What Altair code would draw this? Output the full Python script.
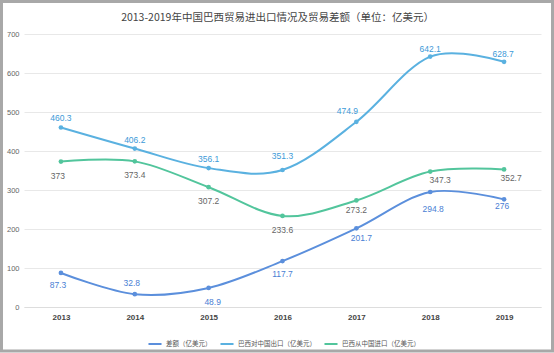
import altair as alt
import pandas as pd
import json

years = ["2013", "2014", "2015", "2016", "2017", "2018", "2019"]
diff_vals = [87.3, 32.8, 48.9, 117.7, 201.7, 294.8, 276]
export_vals = [460.3, 406.2, 356.1, 351.3, 474.9, 642.1, 628.7]
import_vals = [373, 373.4, 307.2, 233.6, 273.2, 347.3, 352.7]
series_names = ["差额（亿美元）", "巴西对中国出口（亿美元）", "巴西从中国进口（亿美元）"]
series_colors = ["#5b8fdc", "#5ab1e0", "#52c59c"]
label_colors = ["#4a80d4", "#3d9ad8", "#666666"]
y_ticks = [0, 100, 200, 300, 400, 500, 600, 700]
title_text = "2013-2019年中国巴西贸易进出口情况及贸易差额（单位：亿美元）"

rows = []
for si, (name, vals) in enumerate(zip(series_names, [diff_vals, export_vals, import_vals])):
    for y, v in zip(years, vals):
        rows.append({"year": y, "series": name, "s": si, "value": v, "label": f"{v:g}"})
df = pd.DataFrame(rows)

W, H = 517, 273
PL, PT, PR, PB = 24, 34, 13, 46

# label placement (style): default offset per series, with a few exceptions
default_offset = {0: (0, 13), 1: (0, -9), 2: (0, 14)}
special_offset = {
    (0, "2013"): (-3, 12), (0, "2014"): (-3, -11), (0, "2015"): (4, 14), (0, "2017"): (5, 10),
    (0, "2018"): (3, 17), (0, "2019"): (-2, 7),
    (1, "2016"): (0, -14), (1, "2017"): (-9, -11), (1, "2018"): (0, -8), (1, "2019"): (-1, -8),
    (2, "2013"): (-3, 14), (2, "2017"): (0, 10), (2, "2018"): (10, 8), (2, "2019"): (7, 9),
}

x = alt.X("year:N", sort=years, title=None,
          scale=alt.Scale(paddingInner=0, paddingOuter=0.5),
          axis=alt.Axis(labelAngle=0, labelFontSize=8, labelFontWeight="bold", labelColor="#444",
                        ticks=False, domain=True, domainColor="#ddd", labelPadding=6, grid=False))
y = alt.Y("value:Q", title=None,
          scale=alt.Scale(domain=[0, 700], nice=False),
          axis=alt.Axis(values=y_ticks, labelFontSize=7.5, labelColor="#666", ticks=False, domain=False,
                        gridColor="#e8e8e8", labelPadding=5))
color_scale = alt.Scale(domain=series_names, range=series_colors)
color = alt.Color("series:N", sort=series_names, scale=color_scale,
                  legend=alt.Legend(title=None, orient="none", direction="horizontal",
                                    legendX=123, legendY=302, symbolType="stroke",
                                    symbolStrokeWidth=2, symbolSize=170, labelFontSize=6.5,
                                    labelColor="#555", labelFont="Noto Sans CJK SC",
                                    columnPadding=4, labelOffset=3))

base = alt.Chart(df)
layers = [
    base.mark_line(interpolate="cardinal", strokeWidth=2).encode(x=x, y=y, color=color),
    base.mark_point(filled=True, size=22, opacity=1).encode(
        x=x, y=y, color=alt.Color("series:N", sort=series_names, scale=color_scale, legend=None)),
]

# group labels by their offset so each group is one text layer
groups = {}
for si in range(len(series_names)):
    for yr in years:
        off = special_offset.get((si, yr), default_offset[si])
        groups.setdefault((si, off), []).append(yr)
for (si, (dx, dy)), yrs in groups.items():
    expr = f"datum.s == {si} && indexof({json.dumps(yrs)}, datum.year) >= 0"
    layers.append(base.transform_filter(expr).mark_text(
        dx=dx, dy=dy, fontSize=8.5, color=label_colors[si]).encode(x=x, y=y, text="label:N"))

one = alt.Chart(pd.DataFrame({"t": [title_text]}))
layers.append(one.mark_text(fontSize=10.5, color="#444", font="Noto Sans CJK SC", baseline="middle").encode(
    x=alt.value(W / 2 - 5), y=alt.value(-16), text="t:N"))
layers.append(one.mark_rect(fill=None, stroke="#a8a8a8", strokeWidth=3).encode(
    x=alt.value(-PL + 1.5), x2=alt.value(W + PR - 1.5),
    y=alt.value(-PT + 1.5), y2=alt.value(H + PB - 2)))

chart = alt.layer(*layers).properties(
    width=W, height=H,
    autosize=alt.AutoSizeParams(type="none"),
    padding={"left": PL, "top": PT, "right": PR, "bottom": PB},
).configure(font="Liberation Sans").configure_view(stroke=None)

chart.save("out.html", embed_options={"renderer": "svg", "actions": False})
